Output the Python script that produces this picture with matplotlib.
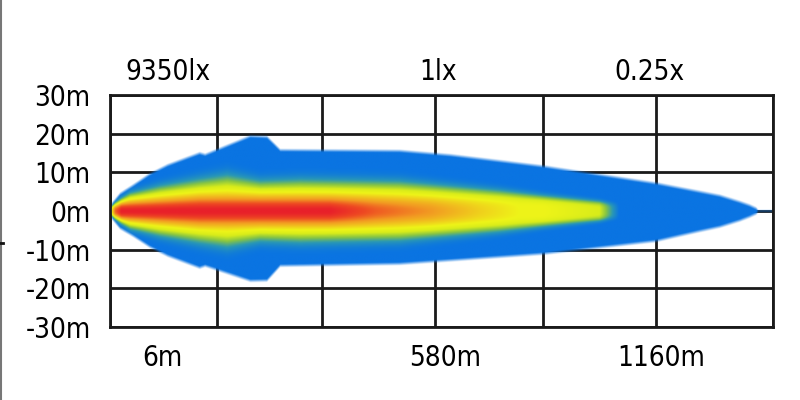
import numpy as np
import matplotlib
matplotlib.use('Agg')
from matplotlib import pyplot as plt
from matplotlib import font_manager as fm
from matplotlib.colors import LinearSegmentedColormap
from matplotlib.lines import Line2D

# beam outline: distance in grid columns, half-widths in metres
dist = [0, 0.018, 0.09, 0.21, 0.36, 0.52, 0.81, 0.86, 1.27, 1.42, 1.54, 2.62, 3.08, 3.92, 4.94, 5.34, 5.52, 5.70, 5.79, 5.85, 5.87]
upper = [0, 2.0, 4.5, 6.7, 9.6, 11.9, 15.0, 14.6, 19.4, 19.2, 15.8, 15.6, 14.5, 11.6, 7.2, 5.0, 4.0, 2.4, 1.5, 0.7, 0]
lower = [0, 2.0, 4.5, 6.5, 9.3, 11.6, 14.7, 14.2, 18.1, 18.0, 14.2, 13.7, 12.8, 11.1, 7.8, 5.2, 4.1, 2.5, 1.5, 0.7, 0]

# yellow band of the beam
yel_dist = [0, 0.045, 0.18, 0.45, 0.81, 1.06, 1.36, 1.72, 2.62, 3.53, 3.92, 4.43, 4.61]
yel_level = [0.5, 1.0, 1.0, 1.0, 1.0, 1.0, 1.0, 1.0, 1.0, 1.0, 1.0, 0.8, 0.0]
yel_width = [0.9, 1.8, 4.0, 5.6, 7.1, 8.0, 6.7, 7.0, 6.6, 4.6, 3.5, 2.3, 1.7]

# red core of the beam
red_dist = [0, 0.1, 0.81, 1.99, 2.4, 2.9, 3.35, 3.71]
red_level = [0.4, 1.0, 1.0, 1.0, 0.72, 0.5, 0.2, 0.0]
red_width = [1.2, 2.4, 3.8, 3.8, 3.8, 3.6, 3.2, 2.8]

y_ticks = [30, 20, 10, 0, -10, -20, -30]
y_labels = ['30m', '20m', '10m', '0m', '-10m', '-20m', '-30m']
col_lines = [0, 0.968, 1.919, 2.941, 3.919, 4.941, 6]
top_labels = ['9350lx', '1lx', '0.25x']
top_pos = [0.525, 2.97, 4.88]
bottom_labels = ['6m', '580m', '1160m']
bottom_pos = [0.47, 3.03, 4.99]

names = {f.name for f in fm.fontManager.ttflist}
if 'Liberation Sans Narrow' in names:
    font = dict(family='Liberation Sans Narrow')
else:
    font = dict(family='DejaVu Sans', stretch='condensed')

fig = plt.figure(figsize=(8, 4), dpi=100)
ax = fig.add_axes([110 / 800, 73 / 400, 663 / 800, 232 / 400])

# intensity field
nx, ny = 1400, 500
xs = np.linspace(0, 6, nx)
ys = np.linspace(-30, 30, ny)
X, Y = np.meshgrid(xs, ys)
h_up = np.interp(xs, dist, upper)
h_lo = np.interp(xs, dist, lower)
H = np.where(Y > 0, h_up[None, :], h_lo[None, :])
soft = 0.9
mask = np.clip((H - np.abs(Y)) / soft + 0.5, 0, 1)

yl = np.interp(xs, yel_dist, yel_level)[None, :]
yw = np.interp(xs, yel_dist, yel_width)[None, :] / 0.91
rl = np.interp(xs, red_dist, red_level)[None, :]
rw = np.interp(xs, red_dist, red_width)[None, :]
v = 0.3 + 0.38 * yl * np.exp(-(np.abs(Y) / yw) ** 4) + 0.32 * rl * np.exp(-(Y / rw) ** 2)

stops = [(0.30, '#0A74E2'), (0.40, '#2A98B4'), (0.50, '#86C444'), (0.60, '#D8EC1A'),
         (0.68, '#EEF418'), (0.84, '#F29A22'), (0.93, '#EE4A22'), (1.0, '#E8202A')]
cmap = LinearSegmentedColormap.from_list('beam', [((p - 0.3) / 0.7, c) for p, c in stops])
rgba = cmap(np.clip((v - 0.3) / 0.7, 0, 1))
rgba[..., 3] = mask

# grid
for yt in y_ticks:
    ax.axhline(yt, color='#1a1a1a', lw=2, zorder=1)
for xt in col_lines:
    ax.axvline(xt, color='#1a1a1a', lw=2, zorder=1)

ax.imshow(rgba, extent=[0, 6, -30, 30], origin='lower', aspect='auto',
          interpolation='bilinear', zorder=2)

ax.set_xlim(0, 6)
ax.set_ylim(-30, 30)
ax.set_xticks([])
ax.set_yticks(y_ticks)
ax.set_yticklabels(y_labels, fontsize=20, **font)
ax.tick_params(axis='y', length=0, pad=14)
for s in ax.spines.values():
    s.set_linewidth(2)
    s.set_color('#1a1a1a')
    s.set_zorder(3)

for t, p in zip(top_labels, top_pos):
    ax.text(p, 1.099, t, transform=ax.get_xaxis_transform(), ha='center', va='center',
            fontsize=20, **font)
for t, p in zip(bottom_labels, bottom_pos):
    ax.text(p, -0.134, t, transform=ax.get_xaxis_transform(), ha='center', va='center',
            fontsize=20, **font)

fig.add_artist(Line2D([0.001, 0.001], [0, 1], color='#777777', lw=1.5, transform=fig.transFigure))
fig.add_artist(Line2D([0, 0.004], [157 / 400, 157 / 400], color='#111111', lw=2, transform=fig.transFigure))

plt.savefig('out.png', dpi=100)
